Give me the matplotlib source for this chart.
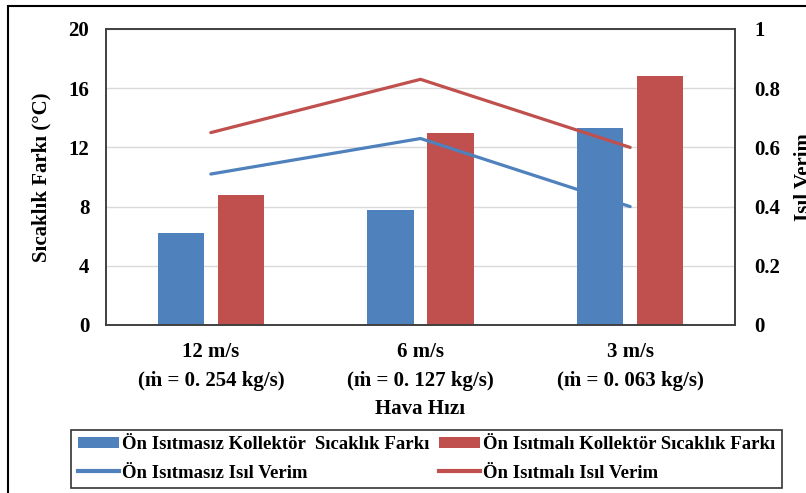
import matplotlib
matplotlib.use("Agg")
import matplotlib.pyplot as plt
from matplotlib.patches import Rectangle, Patch
from matplotlib.lines import Line2D
import numpy as np

plt.rcParams['font.family'] = ['Liberation Serif', 'DejaVu Serif']
plt.rcParams['font.weight'] = 'bold'

categories = ["12 m/s\n(ṁ = 0. 254 kg/s)", "6 m/s\n(ṁ = 0. 127 kg/s)", "3 m/s\n(ṁ = 0. 063 kg/s)"]
temp_diff_no_preheat = [6.2, 7.8, 13.3]
temp_diff_preheat = [8.8, 13.0, 16.8]
eff_no_preheat = [0.51, 0.63, 0.40]
eff_preheat = [0.65, 0.83, 0.60]

series_labels = [
    "Ön Isıtmasız Kollektör  Sıcaklık Farkı",
    "Ön Isıtmalı Kollektör Sıcaklık Farkı",
    "Ön Isıtmasız Isıl Verim",
    "Ön Isıtmalı Isıl Verim",
]

BLUE = "#4F81BD"
RED = "#C0504D"
FS = 15

fig = plt.figure(figsize=(8.06, 4.93), dpi=100)
ax = fig.add_axes([106/806, 1-325/493, (735-106)/806, (325-29)/493])
ax2 = ax.twinx()

x = np.arange(len(categories))
w = 0.22
off = 0.143
ax.bar(x - off, temp_diff_no_preheat, w, color=BLUE, zorder=2)
ax.bar(x + off, temp_diff_preheat, w, color=RED, zorder=2)
ax.set_xlim(-0.5, 2.5)
ax.set_ylim(0, 20)
ax.set_yticks([0, 4, 8, 12, 16, 20])
ax.yaxis.grid(True, color="#D9D9D9", linewidth=1.0, zorder=0)
ax.set_axisbelow(True)
ax.set_xticks(x)
ax.set_xticklabels(categories, fontsize=FS, fontweight='bold', linespacing=1.6)
ax.tick_params(axis='both', length=0, labelsize=FS, pad=12)
ax.tick_params(axis='x', pad=12)
ax.set_ylabel("Sıcaklık Farkı (°C)", fontsize=FS, fontweight='bold', labelpad=12)
ax.set_xlabel("Hava Hızı", fontsize=FS, fontweight='bold', labelpad=6)
for lab in ax.get_yticklabels():
    lab.set_fontweight('bold')

ax2.plot(x, eff_no_preheat, color=BLUE, linewidth=2.3, solid_capstyle='round', zorder=3)
ax2.plot(x, eff_preheat, color=RED, linewidth=2.3, solid_capstyle='round', zorder=3)
ax2.set_ylim(0, 1)
ax2.set_yticks([0, 0.2, 0.4, 0.6, 0.8, 1.0])
ax2.set_yticklabels(["0", "0.2", "0.4", "0.6", "0.8", "1"], fontweight='bold')
ax2.tick_params(axis='y', length=0, labelsize=FS, pad=14)
ax2.set_ylabel("Isıl Verim", fontsize=FS, fontweight='bold', rotation=90, labelpad=10)

for a in (ax, ax2):
    for s in a.spines.values():
        s.set_color("#404040")
        s.set_linewidth(1.2)

# outer chart border
fig.patches.append(Rectangle((8/806, -0.1), 1.2, 1.1 - 6/493, transform=fig.transFigure,
                             fill=False, edgecolor='black', linewidth=1.5))

handles = [
    Patch(facecolor=BLUE, edgecolor='none'),
    Line2D([], [], color=BLUE, linewidth=3),
    Patch(facecolor=RED, edgecolor='none'),
    Line2D([], [], color=RED, linewidth=3),
]
labels = [series_labels[0], series_labels[2], series_labels[1], series_labels[3]]
leg = fig.legend(handles, labels, ncol=2, loc='center',
                 bbox_to_anchor=((65+788)/2/806, 1-459/493),
                 prop={'family': 'Liberation Serif', 'weight': 'bold', 'size': 13.5},
                 frameon=True, fancybox=False, edgecolor='black', handlelength=2.2,
                 handleheight=0.55, handletextpad=0.15, columnspacing=0.5,
                 labelspacing=0.6, borderpad=0.35)
leg.get_frame().set_linewidth(1.2)

fig.savefig("out.png", dpi=100)
